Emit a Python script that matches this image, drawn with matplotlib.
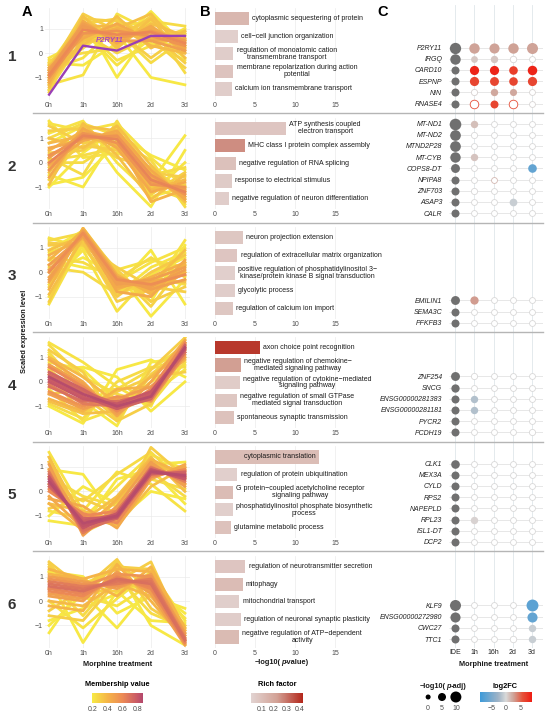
import numpy as np
import matplotlib
matplotlib.use("Agg")
import matplotlib.pyplot as plt
from matplotlib.colors import LinearSegmentedColormap, Normalize
from matplotlib.cm import ScalarMappable
from matplotlib.lines import Line2D

plt.rcParams['font.family'] = ['Liberation Sans', 'DejaVu Sans']

W, H = 550, 718

times = ["0h", "1h", "16h", "2d", "3d"]
c_cols = ["IDE", "1h", "16h", "2d", "3d"]

# ---- panel A: scaled expression per cluster (rows = genes) + membership ----
a1_expr = [[-0.9, 0.95, 0.75, 0.85, 0.4], [-1.0, 0.8, 0.9, 0.7, 0.3], [-0.8, 1.1, 0.6, 0.9, 0.5],
           [-1.2, 1.3, 0.4, 1.1, 0.2], [-0.6, 0.6, 1.2, 0.5, 0.6], [-1.4, 1.5, 0.2, 1.4, -0.2],
           [-0.5, 0.3, 1.5, 0.2, 0.9], [-1.1, 0.5, 1.0, 1.6, 0.0], [-0.7, 1.6, 0.9, -0.2, 0.8],
           [-1.6, 1.2, 1.4, 0.6, -0.6], [-0.3, 0.0, 0.2, 1.3, 1.1], [-1.3, -0.9, 1.6, 0.9, -0.2],
           [-0.5, 1.4, -1.0, 1.0, 0.5], [-1.0, 0.9, 0.8, -1.0, -1.3], [-0.4, -0.5, 0.4, 1.7, 0.3],
           [-1.5, 1.0, -0.3, 0.3, 1.0], [-0.9, 0.2, 1.2, 1.2, -0.8], [-0.7, 1.2, 0.5, 0.5, 0.1],
           [-1.1, 1.0, 0.6, 1.0, 0.1], [-0.8, 0.7, 1.0, 0.6, 0.5], [-1.3, 1.1, 1.1, 0.3, 0.0],
           [-0.6, 1.3, 0.3, 1.2, 0.7], [-1.2, 0.4, 0.7, 1.4, 0.4], [-0.9, 1.4, 1.3, 0.8, -0.4],
           [-0.4, 0.8, 0.0, 0.7, 0.9], [-1.5, 0.6, 0.9, -0.4, 0.6], [-1.0, 1.5, 0.5, 1.5, 0.3],
           [-0.7, -0.2, 1.1, 0.4, -0.3], [-1.2, 0.9, -0.5, 0.6, 0.8], [-0.2, 0.5, 0.8, 1.0, 0.2]]
a1_memb = [0.6, 0.55, 0.52, 0.45, 0.45, 0.35, 0.35, 0.35, 0.3, 0.28, 0.25, 0.22, 0.2, 0.2, 0.2,
           0.22, 0.25, 0.5, 0.45, 0.42, 0.38, 0.35, 0.32, 0.3, 0.28, 0.25, 0.3, 0.22, 0.22, 0.22]

a2_expr = [[0.0, 1.1, 0.95, -0.7, -1.2], [0.3, 1.0, 1.1, -0.5, -1.3], [-0.3, 1.2, 0.8, -0.9, -1.0],
           [0.6, 0.9, 1.3, -0.3, -1.5], [-0.6, 1.4, 0.6, -1.2, -0.8], [1.0, 0.6, 1.5, -0.1, -1.6],
           [-0.9, 1.6, 0.3, -1.5, -0.5], [1.5, 0.8, 1.0, -1.0, -0.9], [0.2, -0.5, 1.7, -0.6, -1.4],
           [1.7, 0.2, 0.4, -0.2, -1.7], [-0.5, -1.0, 1.2, 0.3, -0.3], [0.8, 1.5, -0.4, -1.8, 0.5],
           [-1.0, 0.4, 1.4, -0.8, 1.1], [1.2, 1.7, 0.0, -1.3, 0.0], [0.0, 0.0, 0.9, 0.1, -1.8],
           [0.5, 1.3, 1.0, -1.6, -1.1], [-0.2, 0.7, 0.5, -0.4, -0.6],
           [0.2, 1.2, 1.0, -0.8, -1.1], [-0.1, 0.9, 1.2, -0.6, -1.4], [0.8, 1.1, 0.7, -1.1, -0.7],
           [-0.4, 1.5, 1.3, -0.4, -1.6], [1.3, 1.4, 0.6, -0.7, -1.3], [0.4, 0.5, 1.5, -1.3, -0.4],
           [-0.7, 1.0, 0.2, -0.2, -1.2], [1.0, 1.6, 1.1, -0.5, -0.2], [0.1, 0.3, 0.6, -1.0, -1.5],
           [1.6, 1.3, 1.6, 0.2, -1.0], [-0.9, -0.6, 0.8, -1.4, -1.0]]
a2_memb = [0.62, 0.55, 0.55, 0.45, 0.45, 0.35, 0.35, 0.3, 0.25, 0.22, 0.2, 0.2, 0.2, 0.22, 0.25, 0.4,
           0.3, 0.5, 0.45, 0.38, 0.35, 0.3, 0.3, 0.28, 0.25, 0.25, 0.22, 0.2]

a3_expr = [[0.0, 1.6, -0.3, -0.5, -0.1], [0.3, 1.5, -0.5, -0.3, 0.2], [-0.3, 1.7, -0.2, -0.7, -0.3],
           [0.7, 1.4, -0.7, -0.2, 0.4], [-0.7, 1.8, -0.1, -0.9, 0.0], [1.1, 1.2, -1.0, 0.0, 0.7],
           [-1.2, 1.6, 0.1, -1.2, -0.6], [1.4, 1.0, -0.5, -0.8, 1.3], [-0.5, 0.9, -1.6, -0.1, 0.6],
           [0.5, 0.2, 0.0, -1.8, -0.3], [0.9, 1.7, -0.6, 0.9, -1.3], [-1.3, 1.3, -0.4, 0.4, 1.0],
           [0.2, 0.0, -0.9, -0.4, 0.3], [1.2, 1.1, 0.2, -0.6, -0.8], [-0.2, 1.5, -0.8, -1.0, 0.5],
           [0.6, 0.4, -0.3, 0.6, -0.2],
           [0.1, 1.5, -0.4, -0.6, 0.1], [-0.4, 1.6, -0.6, -0.4, -0.1], [0.5, 1.7, -0.2, -0.8, 0.3],
           [0.9, 1.5, -0.4, -0.5, 0.9], [-0.9, 1.4, -0.5, -0.3, -0.4], [0.3, 1.2, -1.2, -0.7, 0.0],
           [-0.6, 1.8, 0.0, -1.4, 0.4], [1.3, 1.6, -0.8, -0.2, -0.5], [-1.0, 1.1, -0.9, 0.2, 0.8],
           [0.0, 0.6, -0.1, -1.2, 1.1], [0.8, 1.3, 0.1, 0.5, 0.2]]
a3_memb = [0.58, 0.5, 0.5, 0.42, 0.4, 0.32, 0.3, 0.22, 0.22, 0.2, 0.2, 0.22, 0.25, 0.3, 0.45, 0.25,
           0.5, 0.45, 0.4, 0.35, 0.35, 0.3, 0.28, 0.25, 0.22, 0.2, 0.22]

a4_expr = [[0.2, -0.5, -1.0, -0.6, 1.4], [0.0, -0.7, -0.9, -0.4, 1.3], [0.4, -0.3, -1.1, -0.7, 1.5],
           [-0.2, -0.8, -0.8, -0.5, 1.2], [0.6, -0.2, -1.2, -0.3, 1.6], [-0.4, -1.0, -0.6, -0.8, 1.1],
           [0.9, 0.0, -1.4, 0.0, 1.7], [-0.7, -1.2, -0.3, -0.2, 0.9], [1.3, 0.4, -1.6, 0.3, 1.4],
           [-0.9, -1.5, 0.0, 0.6, 0.6], [1.6, 0.8, -0.2, -1.0, 1.8], [-1.0, -1.7, 0.5, 0.9, 0.2],
           [1.1, -0.8, -1.8, 0.8, 1.0], [0.5, 0.6, 0.2, -1.2, 0.0], [-0.5, -0.3, -1.5, 0.5, 1.8],
           [1.5, 0.2, -0.5, -0.9, 0.8], [0.3, -1.3, -0.4, 0.2, 0.4],
           [0.1, -0.6, -1.1, -0.5, 1.35], [0.3, -0.4, -0.9, -0.6, 1.45], [-0.1, -0.9, -1.0, -0.7, 1.2],
           [0.7, -0.1, -1.3, -0.4, 1.55], [-0.5, -1.1, -0.7, -0.2, 1.0], [1.0, 0.2, -0.9, 0.2, 1.3],
           [-0.8, -1.3, -1.2, -0.6, 1.6], [0.5, -0.6, -1.6, -0.9, 1.7], [1.2, -0.4, -0.3, 0.5, 1.5],
           [-0.3, -1.6, -1.1, 0.0, 0.7], [0.8, 0.5, -0.8, -0.5, 0.5]]
a4_memb = [0.85, 0.8, 0.75, 0.7, 0.6, 0.55, 0.45, 0.4, 0.3, 0.25, 0.22, 0.2, 0.2, 0.2, 0.3, 0.25, 0.3,
           0.78, 0.72, 0.65, 0.5, 0.5, 0.38, 0.35, 0.3, 0.25, 0.22, 0.2]

a5_expr = [[0.4, -1.3, -1.0, 0.8, 0.65], [0.6, -1.5, -0.9, 0.9, 0.5], [0.2, -1.1, -1.1, 0.7, 0.8],
           [0.8, -1.7, -0.8, 1.0, 0.4], [0.0, -0.9, -1.3, 0.6, 0.9], [1.1, -1.8, -0.6, 1.2, 0.2],
           [-0.3, -0.6, -1.5, 0.5, 1.1], [1.4, -1.2, -0.2, 1.4, 0.0], [-0.7, -0.3, -0.9, 1.8, 0.6],
           [1.6, -0.8, 0.8, 0.3, -0.8], [-1.0, 0.2, -0.5, 1.1, 1.2], [0.9, 0.7, -1.2, 0.0, -0.3],
           [-1.2, -1.4, 0.5, 0.9, -0.5], [0.3, -0.4, 0.7, 1.6, 0.3], [1.2, -1.0, -1.4, 0.2, 1.0],
           [-0.5, -1.6, -0.3, 1.3, 0.7],
           [0.5, -1.4, -1.05, 0.85, 0.6], [0.3, -1.2, -0.95, 0.75, 0.7], [0.7, -1.6, -1.1, 0.95, 0.55],
           [0.1, -1.0, -0.8, 0.7, 0.85], [0.9, -1.3, -1.2, 1.1, 0.3], [-0.2, -1.5, -0.7, 0.6, 1.0],
           [1.2, -1.5, -0.4, 1.3, 0.5], [-0.5, -0.8, -1.2, 1.0, 0.8], [0.6, -0.2, -0.6, 0.5, 0.1],
           [1.4, -1.7, -1.0, 0.8, -0.2], [-0.8, -1.1, 0.2, 1.5, 0.9]]
a5_memb = [0.85, 0.8, 0.75, 0.65, 0.6, 0.5, 0.45, 0.35, 0.3, 0.22, 0.2, 0.2, 0.2, 0.25, 0.35, 0.4,
           0.82, 0.78, 0.7, 0.6, 0.5, 0.45, 0.35, 0.35, 0.25, 0.25, 0.22]

a6_expr = [[0.6, 0.4, 0.9, 0.7, -1.6], [0.8, 0.6, 0.7, 0.9, -1.5], [0.4, 0.2, 1.0, 0.5, -1.7],
           [1.0, 0.8, 0.5, 1.1, -1.3], [0.2, 0.0, 1.2, 0.3, -1.8], [1.3, 0.9, 0.2, 1.4, -1.1],
           [-0.2, -0.4, 1.5, 0.0, -1.6], [1.6, 0.5, 1.7, -0.3, -1.2], [-0.6, -0.8, 0.8, 1.6, -1.4],
           [0.9, -1.7, 0.4, -0.8, -0.9], [-1.0, 0.3, -1.1, 0.6, -0.5], [1.2, 1.0, -0.5, 0.2, -0.3],
           [-1.3, 0.7, 1.3, -1.0, -1.8], [0.0, -1.1, 0.1, 1.2, -0.8], [1.5, 0.1, 1.6, 0.4, -1.0],
           [0.5, 0.6, 1.1, 1.0, -1.7],
           [0.7, 0.5, 0.8, 0.8, -1.55], [0.5, 0.3, 0.95, 0.6, -1.65], [0.9, 0.7, 0.6, 1.0, -1.4],
           [0.3, 0.1, 1.1, 0.4, -1.75], [1.1, 0.9, 1.3, 1.2, -1.2], [0.0, -0.2, 0.7, 0.2, -1.5],
           [1.4, 0.4, 0.4, 0.9, -1.6], [-0.4, 0.5, 1.4, 1.3, -1.3], [0.8, -0.6, 1.0, -0.5, -1.1],
           [1.2, 0.2, -0.2, 0.7, -0.7], [-0.8, -0.3, 0.3, 0.8, -1.0]]
a6_memb = [0.7, 0.65, 0.6, 0.5, 0.5, 0.4, 0.4, 0.3, 0.3, 0.2, 0.2, 0.2, 0.2, 0.22, 0.3, 0.55,
           0.68, 0.62, 0.55, 0.5, 0.4, 0.38, 0.3, 0.3, 0.25, 0.22, 0.2]

p2ry11_expr = [-1.7, 0.3, 0.1, 0.7, 0.7]

# ---- panel B: GO terms ----
b1_terms = ["cytoplasmic sequestering of protein", "cell\u2212cell junction organization",
            "regulation of monoatomic cation\ntransmembrane transport",
            "membrane repolarization during action\npotential", "calcium ion transmembrane transport"]
b1_logp = [4.25, 2.9, 2.3, 2.3, 2.1]
b1_rich = [0.14, 0.04, 0.05, 0.09, 0.05]

b2_terms = ["ATP synthesis coupled\nelectron transport", "MHC class I protein complex assembly",
            "negative regulation of RNA splicing", "response to electrical stimulus",
            "negative regulation of neuron differentiation"]
b2_logp = [8.9, 3.7, 2.6, 2.1, 1.75]
b2_rich = [0.08, 0.26, 0.10, 0.06, 0.05]

b3_terms = ["neuron projection extension", "regulation of extracellular matrix organization",
            "positive regulation of phosphatidylinositol 3\u2212\nkinase/protein kinase B signal transduction",
            "glycolytic process", "regulation of calcium ion import"]
b3_logp = [3.45, 2.8, 2.5, 2.5, 2.2]
b3_rich = [0.075, 0.08, 0.04, 0.05, 0.075]

b4_terms = ["axon choice point recognition", "negative regulation of chemokine\u2212\nmediated signaling pathway",
            "negative regulation of cytokine\u2212mediated\nsignaling pathway",
            "negative regulation of small GTPase\nmediated signal transduction",
            "spontaneous synaptic transmission"]
b4_logp = [5.6, 3.2, 3.1, 2.7, 2.4]
b4_rich = [0.40, 0.23, 0.055, 0.075, 0.095]

b5_terms = ["cytoplasmic translation", "regulation of protein ubiquitination",
            "G protein\u2212coupled acetylcholine receptor\nsignaling pathway",
            "phosphatidylinositol phosphate biosynthetic\nprocess", "glutamine metabolic process"]
b5_logp = [13.0, 2.8, 2.2, 2.2, 1.95]
b5_rich = [0.115, 0.04, 0.12, 0.04, 0.095]

b6_terms = ["regulation of neurotransmitter secretion", "mitophagy", "mitochondrial transport",
            "regulation of neuronal synaptic plasticity", "negative regulation of ATP\u2212dependent\nactivity"]
b6_logp = [3.8, 3.45, 3.05, 3.2, 3.0]
b6_rich = [0.08, 0.12, 0.045, 0.05, 0.125]

# ---- panel C: genes, IDE -log10(p-adj), log2FC / -log10(p-adj) per time, significant flag ----
c1_genes = ["P2RY11", "IRGQ", "CARD10", "ESPNP", "NIN", "RNASE4"]
c1_ide = [10.5, 9, 5, 5, 5, 5]
c1_fc = [[2.5, 2.5, 2.6, 2.5], [0.8, 0.9, 0.2, 0.1], [8.5, 8.5, 7.0, 8.5],
         [6.5, 6.5, 6.5, 6.5], [0.3, 2.3, 2.3, 0.2], [6.0, 6.5, 6.0, 0.2]]
c1_padj = [[9, 8.5, 9, 10], [3, 4, 2.5, 1.5], [7, 7, 6, 7.5], [7, 6.5, 6, 7], [2, 4, 3.5, 1.5], [6, 5, 6, 1.5]]
c1_sig = [[1, 1, 1, 1], [1, 1, 0, 0], [1, 1, 1, 1], [1, 1, 1, 1], [0, 1, 1, 0], [0, 1, 0, 0]]

c2_genes = ["MT-ND1", "MT-ND2", "MTND2P28", "MT-CYB", "COPS8-DT", "NPIPA8", "ZNF703", "ASAP3", "CALR"]
c2_ide = [11, 9.5, 9.5, 9, 6.5, 5, 5, 5, 5]
c2_fc = [[1.2, 0, 0, 0], [0, 0, 0, 0], [0, 0, 0, 0], [1.0, 0, 0, 0], [0, 0, 0, -6.5],
         [0, 1.5, 0, 0], [0, 0, 0, 0], [0, 0, -0.8, 0], [0, 0, 0, 0]]
c2_padj = [[4, 1.5, 1.5, 1.5], [2, 1.5, 1.5, 1.5], [1.5, 1.5, 1.5, 1.5], [4, 1.5, 1.5, 1.5], [1.5, 1.5, 1.5, 6],
           [1.5, 1.5, 1.5, 1.5], [2, 1.5, 1.5, 1.5], [1.5, 1.5, 4.5, 1.5], [1.5, 1.5, 1.5, 1.5]]
c2_sig = [[1, 0, 0, 0], [0, 0, 0, 0], [0, 0, 0, 0], [1, 0, 0, 0], [0, 0, 0, 1],
          [0, 0, 0, 0], [0, 0, 0, 0], [0, 0, 1, 0], [0, 0, 0, 0]]

c3_genes = ["EMILIN1", "SEMA3C", "PFKFB3"]
c3_ide = [6.5, 5, 5]
c3_fc = [[2.8, 0, 0, 0], [0, 0, 0, 0], [0, 0, 0, 0]]
c3_padj = [[5.5, 1.5, 1.5, 1.5], [1.5, 1.5, 1.5, 1.5], [1.5, 1.5, 1.5, 1.5]]
c3_sig = [[1, 0, 0, 0], [0, 0, 0, 0], [0, 0, 0, 0]]

c4_genes = ["ZNF254", "SNCG", "ENSG00000281383", "ENSG00000281181", "PYCR2", "PCDH19"]
c4_ide = [6.5, 5.5, 5, 5, 5, 5]
c4_fc = [[0, 0, 0, 0], [0, 0, 0, 0], [-1.8, 0, 0, 0], [-1.8, 0, 0, 0], [0, 0, 0, 0], [0, 0, 0, 0]]
c4_padj = [[2, 1.5, 1.5, 1.5], [1.5, 1.5, 1.5, 1.5], [4, 1.5, 1.5, 1.5], [4, 1.5, 1.5, 1.5],
           [1.5, 1.5, 1.5, 1.5], [1.5, 1.5, 1.5, 2]]
c4_sig = [[0, 0, 0, 0], [0, 0, 0, 0], [1, 0, 0, 0], [1, 0, 0, 0], [0, 0, 0, 0], [0, 0, 0, 0]]

c5_genes = ["CLK1", "MEX3A", "CYLD", "RPS2", "NAPEPLD", "RPL23", "ISL1-DT", "DCP2"]
c5_ide = [6, 5, 5, 5, 5, 5, 5, 5]
c5_fc = [[0, 0, 0, 0], [0, 0, 0, 0], [0, 0, 0, 0], [0, 0, 0, 0],
         [0, 0, 0, 0], [0.3, 0, 0, 0], [0, 0, 0, 0], [0, 0, 0, 0]]
c5_padj = [[1.5, 1.5, 1.5, 1.5], [1.5, 1.5, 1.5, 1.5], [2, 1.5, 1.5, 1.5], [1.5, 1.5, 1.5, 1.5],
           [1.5, 1.5, 1.5, 1.5], [4, 1.5, 1.5, 1.5], [1.5, 1.5, 1.5, 1.5], [1.5, 1.5, 1.5, 1.5]]
c5_sig = [[0, 0, 0, 0], [0, 0, 0, 0], [0, 0, 0, 0], [0, 0, 0, 0],
          [0, 0, 0, 0], [1, 0, 0, 0], [0, 0, 0, 0], [0, 0, 0, 0]]

c6_genes = ["KLF9", "ENSG00000272980", "CWC27", "TTC1"]
c6_ide = [10, 8.5, 5, 5]
c6_fc = [[0, 0, 0, -7.0], [0, 0, 0, -6.5], [0, 0, 0, -0.8], [0, 0, 0, -0.8]]
c6_padj = [[1.5, 1.5, 1.5, 11.5], [1.5, 1.5, 1.5, 8.5], [1.5, 1.5, 1.5, 4], [1.5, 1.5, 2.5, 4]]
c6_sig = [[0, 0, 0, 1], [0, 0, 0, 1], [0, 0, 0, 1], [0, 0, 0, 1]]

size_legend = [0, 5, 10]

a_expr = [a1_expr, a2_expr, a3_expr, a4_expr, a5_expr, a6_expr]
a_memb = [a1_memb, a2_memb, a3_memb, a4_memb, a5_memb, a6_memb]
b_terms = [b1_terms, b2_terms, b3_terms, b4_terms, b5_terms, b6_terms]
b_logp = [b1_logp, b2_logp, b3_logp, b4_logp, b5_logp, b6_logp]
b_rich = [b1_rich, b2_rich, b3_rich, b4_rich, b5_rich, b6_rich]
c_genes = [c1_genes, c2_genes, c3_genes, c4_genes, c5_genes, c6_genes]
c_ide = [c1_ide, c2_ide, c3_ide, c4_ide, c5_ide, c6_ide]
c_fc = [c1_fc, c2_fc, c3_fc, c4_fc, c5_fc, c6_fc]
c_padj = [c1_padj, c2_padj, c3_padj, c4_padj, c5_padj, c6_padj]
c_sig = [c1_sig, c2_sig, c3_sig, c4_sig, c5_sig, c6_sig]

# colour scales
memb_cmap = LinearSegmentedColormap.from_list(
    "memb", [(0, "#f7ea45"), (0.3, "#f5b548"), (0.6, "#ec8a55"), (0.88, "#c95a66"), (1, "#b2486c")])
memb_norm = Normalize(0.19, 0.87)
rich_cmap = LinearSegmentedColormap.from_list("rich", ["#e2d4d2", "#d3a296", "#b3261a"])
rich_norm = Normalize(0.02, 0.43)
fc_cmap = LinearSegmentedColormap.from_list(
    "fc", [(0, "#3d9ad9"), (0.35, "#9fb3c6"), (0.5, "#d9d9d9"), (0.64, "#cfa398"),
           (0.82, "#e5533a"), (1, "#ee1c12")])
fc_norm = Normalize(-9, 9)

TICK = "#4d4d4d"
GRID = "#ebebeb"
FS = 5


def box(l, t, r, b):
    return [l / W, 1 - b / H, (r - l) / W, (b - t) / H]


def dot_area(v):
    d = (5 + 0.6 * v) * 0.72
    return d * d


def clean(ax):
    for s in ax.spines.values():
        s.set_visible(False)
    ax.tick_params(length=0, labelsize=FS, colors=TICK, pad=1.5)


fig = plt.figure(figsize=(W / 100, H / 100), dpi=100)
zeros = [53 + 109.6 * r for r in range(6)]

for r in range(6):
    z = zeros[r]
    # --- A ---
    ax = fig.add_axes(box(45, z - 45, 190, z + 46.5))
    expr = a_expr[r]
    memb = a_memb[r]
    for i in np.argsort(memb, kind="stable"):
        ax.plot(range(5), expr[i], color=memb_cmap(memb_norm(memb[i])), lw=2.0, zorder=2)
    if r == 0:
        ax.plot(range(5), p2ry11_expr, color="#9a3fb5", lw=1.7, zorder=4)
        ax.text(1.8, 0.5, "P2RY11", color="#a446c4", fontsize=5.5, fontweight="bold",
                fontstyle="italic", ha="center", va="center", zorder=5)
    ax.set_xlim(-0.12, 4.15)
    ax.set_ylim(-1.9, 1.84)
    ax.set_xticks(range(5), times)
    ax.set_yticks([-1, 0, 1], ["\u22121", "0", "1"])
    ax.grid(color=GRID, lw=0.5)
    ax.set_axisbelow(True)
    clean(ax)
    if r == 5:
        ax.set_xlabel("Morphine treatment", fontsize=5.3, fontweight="bold", color="#1a1a1a", labelpad=3)
    fig.text(12 / W, 1 - (z + 4) / H, str(r + 1), fontsize=11, fontweight="bold", color="#333333",
             ha="center", va="center")

    # --- B ---
    axb = fig.add_axes(box(213, z - 45, 372, z + 46.5))
    ypos = np.arange(5)[::-1]
    vals = b_logp[r]
    axb.barh(ypos, vals, height=0.75, color=[rich_cmap(rich_norm(v)) for v in b_rich[r]], zorder=2)
    for y, v, t in zip(ypos, vals, b_terms[r]):
        if v > 10:
            axb.text(v - 0.4, y, t, ha="right", va="center", fontsize=FS, color="#1a1a1a",
                     multialignment="center", linespacing=0.95, zorder=3)
        else:
            axb.text(v + 0.4, y, t, ha="left", va="center", fontsize=FS, color="#1a1a1a",
                     multialignment="center", linespacing=0.95, zorder=3)
    axb.set_ylim(-0.6, 4.6)
    axb.set_xlim(-0.25, 19.6)
    axb.set_xticks([0, 5, 10, 15])
    axb.set_yticks([])
    axb.grid(axis="x", color=GRID, lw=0.5)
    axb.set_axisbelow(True)
    clean(axb)

    # --- C ---
    top = 5 if r == 0 else z - 49.6
    bottom = z + 60 if r < 5 else 648
    g0 = z + (50.5 if r < 5 else 38)
    slot = 11.2
    axc = fig.add_axes(box(445, top, 543, bottom))
    genes = c_genes[r]
    n = len(genes)
    ys = np.arange(n)[::-1]
    axc.set_xlim(-0.52, 4.57)
    axc.set_ylim(-(bottom - g0) / slot, (g0 - top) / slot)
    axc.set_xticks(range(5), c_cols if r == 5 else [""] * 5)
    axc.set_yticks(ys, genes)
    for lab in axc.get_yticklabels():
        lab.set_fontstyle("italic")
    axc.grid(axis="x", color="#dfe6ea", lw=0.6)
    axc.set_axisbelow(True)
    clean(axc)
    axc.tick_params(axis="y", colors="#222222", pad=2)
    axc.tick_params(axis="x", colors="#222222", pad=1)
    for i, g in enumerate(genes):
        y = ys[i]
        axc.hlines(y, -0.3, 4.6, color="#e3e3e3", lw=0.6, zorder=1)
        axc.scatter(0, y, s=dot_area(c_ide[r][i]), color="#707070", lw=0, zorder=3)
        for j in range(4):
            col = fc_cmap(fc_norm(c_fc[r][i][j]))
            if c_sig[r][i][j]:
                axc.scatter(j + 1, y, s=dot_area(c_padj[r][i][j]), color=col, lw=0, zorder=3)
            else:
                axc.scatter(j + 1, y, s=dot_area(c_padj[r][i][j]), facecolor="white", edgecolor=col,
                            lw=0.6, zorder=3)
    if r == 5:
        axc.set_xlabel("Morphine treatment", fontsize=5.3, fontweight="bold", color="#1a1a1a", labelpad=3)

    if r < 5:
        fig.add_artist(Line2D([33 / W, 543 / W], [1 - (z + 60) / H] * 2, color="#b5b5b5", lw=1))

# panel letters & y label
for lab, x in [("A", 27), ("B", 205), ("C", 383)]:
    fig.text(x / W, 1 - 12 / H, lab, fontsize=10.5, fontweight="bold", ha="center", va="center")
fig.text(25 / W, 1 - 331 / H, "Scaled expression level", rotation=90, fontsize=5.3, fontweight="bold",
         ha="center", va="center", color="#1a1a1a")

renderer = fig.canvas.get_renderer()


def mixed_text(xc, y, parts, size=5.3):
    # parts: list of (text, style); draw left to right, centred on xc
    objs = []
    for t, st in parts:
        objs.append(fig.text(0, 1 - y / H, t, fontsize=size, fontweight="bold", fontstyle=st,
                             ha="left", va="center", color="#1a1a1a"))
    widths = [o.get_window_extent(renderer=renderer).width for o in objs]
    x = xc - sum(widths) / 2
    for o, w in zip(objs, widths):
        o.set_x(x / W)
        x += w


mixed_text(282, 662, [("\u2212log10(", "normal"), ("p", "italic"), ("-value)", "normal")])

# legends
fig.text(117 / W, 1 - 685 / H, "Membership value", fontsize=5.3, fontweight="bold", ha="center", va="center")
cax = fig.add_axes(box(92, 693, 143, 703))
cb = fig.colorbar(ScalarMappable(memb_norm, memb_cmap), cax=cax, orientation="horizontal",
                  ticks=[0.2, 0.4, 0.6, 0.8])
cb.set_ticklabels(["0.2", "0.4", "0.6", "0.8"])
cb.outline.set_visible(False)
cax.tick_params(length=0, labelsize=FS, colors=TICK, pad=2)

fig.text(277 / W, 1 - 685 / H, "Rich factor", fontsize=5.3, fontweight="bold", ha="center", va="center")
cax = fig.add_axes(box(251, 693, 303, 703))
cb = fig.colorbar(ScalarMappable(rich_norm, rich_cmap), cax=cax, orientation="horizontal",
                  ticks=[0.1, 0.2, 0.3, 0.4])
cb.set_ticklabels(["0.1", "0.2", "0.3", "0.4"])
cb.outline.set_visible(False)
cax.tick_params(length=0, labelsize=FS, colors=TICK, pad=2)

mixed_text(443, 687, [("\u2212log10(", "normal"), ("p", "italic"), ("-adj)", "normal")])
sax = fig.add_axes(box(420.5, 690, 463.5, 704))
sax.scatter(range(3), [0] * 3, s=[dot_area(v) for v in size_legend], color="black", lw=0)
sax.set_xlim(-0.55, 2.55)
sax.set_ylim(-1, 1)
sax.set_xticks(range(3), [str(v) for v in size_legend])
sax.set_yticks([])
clean(sax)
sax.tick_params(pad=1)

fig.text(505 / W, 1 - 687 / H, "log2FC", fontsize=5.3, fontweight="bold", ha="center", va="center")
cax = fig.add_axes(box(480, 692, 532, 702))
cb = fig.colorbar(ScalarMappable(fc_norm, fc_cmap), cax=cax, orientation="horizontal", ticks=[-5, 0, 5])
cb.set_ticklabels(["\u22125", "0", "5"])
cb.outline.set_visible(False)
cax.tick_params(length=0, labelsize=FS, colors=TICK, pad=2)

fig.savefig("out.png", dpi=100)
